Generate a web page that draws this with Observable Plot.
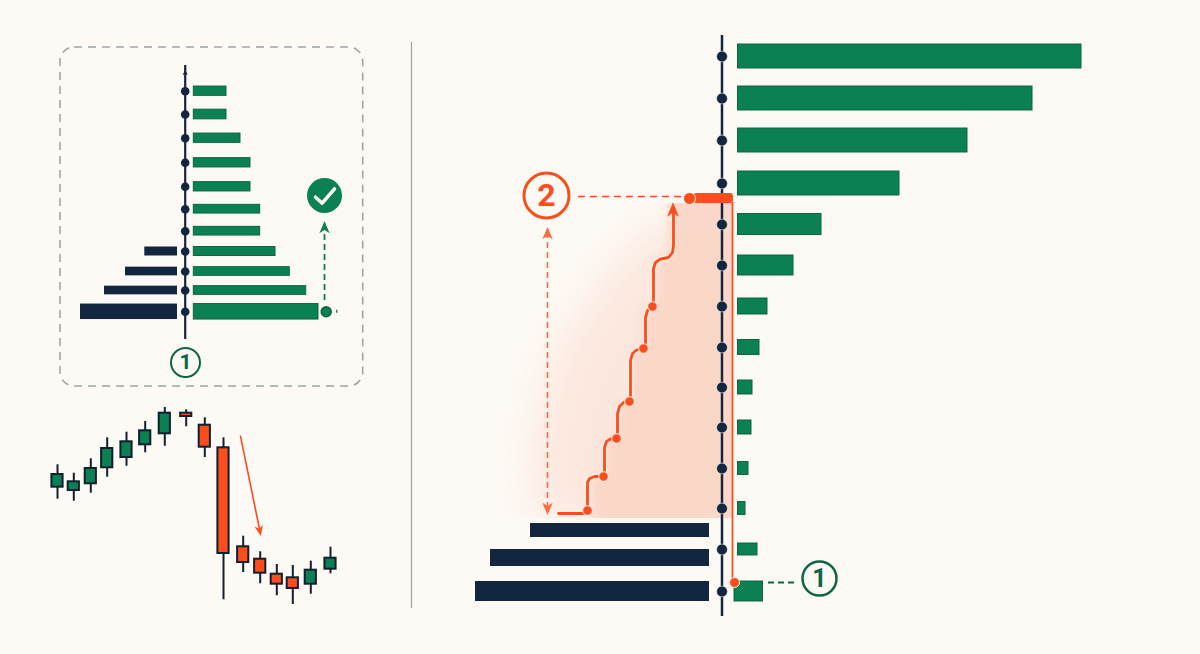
<!DOCTYPE html>
<html><head><meta charset="utf-8">
<script src="https://cdn.jsdelivr.net/npm/d3@7"></script>
<script src="https://cdn.jsdelivr.net/npm/@observablehq/plot@0.6"></script>
<style>
html,body{margin:0;padding:0;background:#fdfaf5;overflow:hidden}
#stage{position:relative;width:1200px;height:654px}
#stage svg{position:absolute;background:transparent;overflow:visible}
</style></head><body><div id="stage"></div>
<script>
// ---------- inset profile ----------
const insetLevels = [88.7,110,129,149,169.3,191.3,213.7,237.7,262.3,286,309.3];
const insetBuy    = [124.7,112.4,96,81.7,66.4,66.4,56.7,56.7,46.7,32.7,32.7];
const insetSell   = [97,73,52,32.7];
const insetWeight = [15.5,8.7,8.7,9,8.7,8.7,9.3,9.3,9.3,9.7,9.3];
// ---------- candles ----------
const sessions = [17,33.3,50.3,66.7,86,104.7,124.3,145.7,164.3,183,202.7,219.7,236.3,252.3,270.3,290];
const opens  = [123.3,120,126.7,142.7,153,165.7,176.7,197.3,185.3,162.7,63.7,51.3,36.3,32.7,26.3,41.3];
const closes = [136,128.7,142,162,168.7,179.7,197.3,194,163.3,57,48,37.3,26.3,22,40.3,52.3];
const highs  = [145.7,137.3,151.7,172.7,178.3,189,203,200.7,192.7,172.7,74.3,58.7,46,45,49.3,63.3];
const lows   = [111.3,109.3,117.3,133.3,144.3,157.7,164.3,183.7,153,10.7,38,26.7,14.7,6,16.3,36.7];
// ---------- main profile ----------
const mainLevels = [63,105,146,186,227,267,307,348,389,430,471,514,556,598];
const mainBuy    = [29,20,8,11,14,15,22,30,56,84,162,230,295,344];
const mainWeight = [20,12,13,13,14,14,15,16,20,21,24,24,24,24];
const sellLevels = [63,96.5,124];
const sellSize   = [234,219,179];
const sellWeight = [20,17,14];
const stairX = [-163.5,-134.5,-134.5,-132.5,-127.5,-118.5,-117.5,-117.5,-115.5,-111.5,-105.5,-104.5,-104.5,-102.5,-98.5,-92.5,-91.5,-91.5,-89.5,-85.5,-78.5,-76.5,-76.5,-74.5,-69.5,-68.5,-68.5,-66.5,-61.5,-53.5,-49.5,-48.5,-48.5];
const stairY = [141,141,172,176,178,178,184,207,213,215.5,216,222,241,248,252,253,259,294,301,304.5,306,311,337,344,348,354,386,392,395.5,397,402,409,444];
const stairNodeX = [-134.5,-118.5,-105.5,-92.5,-78.5,-69.5];
const stairNodeY = [144,178,216,253,306,348];
const shadeEdgeY = [130,178,216,253,306,348,397,470];
const shadeEdgeX = [-138,-122,-109,-96,-82,-73,-56,-50];
const glowEdgeY  = [130,200,300,380,430];
const glowEdgeX  = [-185,-190,-168,-115,-70];

// ---------- palette ----------
const bg="#fdfaf5", green="#0a8053", greenEdge="#0c6645", navy="#13263f", orange="#fb4e1c", orangeSoft="#fb6a40", shade="#fbd6c7", grey="#9ba3a7", ink="#10202e";
const digitFont = "Roboto, 'Liberation Sans', sans-serif";

const stage=document.getElementById("stage");
stage.innerHTML=`<svg width="0" height="0" style="position:absolute"><defs>
<filter id="blurWide" x="-50%" y="-50%" width="200%" height="200%"><feGaussianBlur stdDeviation="22"/></filter>
<filter id="blurTight" x="-20%" y="-20%" width="140%" height="140%"><feGaussianBlur stdDeviation="5"/></filter></defs></svg>`;

const stealth={draw(c,size){const r=Math.sqrt(size/Math.PI);c.moveTo(0,-r*1.1);c.lineTo(r*.85,r*.95);c.lineTo(0,r*.4);c.lineTo(-r*.85,r*.95);c.closePath();}};

function place(svg,left,top){svg.style.left=left+"px";svg.style.top=top+"px";stage.appendChild(svg);}

function panel(width,height,xDomain,yDomain,marks){
  return Plot.plot({width,height,margin:0,marginTop:0,marginRight:0,marginBottom:0,marginLeft:0,
    x:{type:"linear",domain:xDomain,range:[0,width],axis:null},
    y:{type:"linear",domain:yDomain,range:[height,0],axis:null},
    style:{background:"transparent"},marks});
}

// ---------- inset panel ----------
const insetRows=insetLevels.map((y,i)=>({y,buy:insetBuy[i],sell:insetSell[i],w:insetWeight[i]}));
const insetGapR=8.6, insetGapL=7.7;
const inset=panel(330,370,[-134.7,195.3],[0,370],[
  Plot.rect([{}],{x1:-124.7,x2:178,y1:14,y2:353,rx:14,fill:"none",stroke:grey,strokeWidth:1.5,strokeDasharray:"8,6"}),
  Plot.rect(insetRows,{x1:insetGapR,x2:d=>insetGapR+d.buy,y1:d=>d.y-d.w/2,y2:d=>d.y+d.w/2,fill:green,stroke:greenEdge,strokeWidth:1}),
  Plot.rect(insetRows.filter(d=>d.sell),{x1:-insetGapL,x2:d=>-insetGapL-d.sell,y1:d=>d.y-d.w/2,y2:d=>d.y+d.w/2,fill:navy}),
  Plot.ruleX([0],{y1:61,y2:335,stroke:navy,strokeWidth:2.2}),
  Plot.dot([0],{x:0,y:()=>328,symbol:stealth,r:3,fill:navy}),
  Plot.dot(insetRows,{x:()=>0,y:"y",r:4.3,fill:navy}),
  Plot.ruleX([151.5],{y1:87.2,y2:90.2,stroke:green,strokeWidth:1.3}),
  Plot.dot([0],{x:()=>141,y:()=>88.7,r:5,fill:green,stroke:greenEdge}),
  Plot.ruleX([139.3],{y1:100,y2:168,stroke:green,strokeWidth:1.8,strokeDasharray:"6,4"}),
  Plot.dot([0],{x:()=>139.3,y:()=>173,r:6,symbol:stealth,fill:green}),
  Plot.dot([0],{x:()=>139.3,y:()=>205,r:17.5,fill:green}),
  Plot.line([[130.3,203.3],[137,197.3],[149.3,211.7]],{x:"0",y:"1",stroke:"white",strokeWidth:3.5,strokeLinecap:"round",strokeLinejoin:"round"}),
  Plot.dot([0],{x:()=>0.3,y:()=>38,r:14.5,fill:"none",stroke:greenEdge,strokeWidth:2}),
  Plot.text(["1"],{x:()=>0.3,y:()=>38,fill:greenEdge,fontSize:21,fontWeight:700,fontFamily:digitFont})
]);
place(inset,50,30);

// ---------- candles ----------
const candles=sessions.map((x,i)=>({x,o:opens[i],c:closes[i],h:highs[i],l:lows[i]}));
const bodyHalf=5.6;
const candlePanel=panel(320,210,[0,320],[0,210],[
  Plot.ruleX(candles,{x:"x",y1:"l",y2:"h",stroke:ink,strokeWidth:2}),
  Plot.rect(candles,{x1:d=>d.x-bodyHalf,x2:d=>d.x+bodyHalf,y1:"o",y2:"c",fill:d=>d.c>d.o?green:orange,stroke:ink,strokeWidth:2}),
  Plot.line([[200,174.3],[219.5,79]],{x:"0",y:"1",stroke:orange,strokeWidth:1.6}),
  Plot.dot([0],{x:()=>219.2,y:()=>80,r:5,symbol:stealth,rotate:168,fill:orange})
]);
place(candlePanel,40,400);

// ---------- main panel ----------
function softened(filterId,clip){
  return (index,scales,values,dims,ctx,next)=>{
    const g=next(index,scales,values,dims,ctx);
    const ns="http://www.w3.org/2000/svg", id="clip"+filterId;
    const wrap=document.createElementNS(ns,"g"), cp=document.createElementNS(ns,"clipPath"), r=document.createElementNS(ns,"rect");
    cp.setAttribute("id",id);
    r.setAttribute("x",scales.x(clip.x1));r.setAttribute("width",scales.x(clip.x2)-scales.x(clip.x1));
    r.setAttribute("y",scales.y(clip.y2));r.setAttribute("height",scales.y(clip.y1)-scales.y(clip.y2));
    cp.appendChild(r);wrap.appendChild(cp);
    g.setAttribute("filter",`url(#${filterId})`);
    wrap.setAttribute("clip-path",`url(#${id})`);
    wrap.appendChild(g);return wrap;
  };
}
const mainRows=mainLevels.map((y,i)=>({y,buy:mainBuy[i],w:mainWeight[i],x1:i===0?12.5:16}));
const sellRows=sellLevels.map((y,i)=>({y,size:sellSize[i],w:sellWeight[i]}));
const gapL=12.5, redEdge=10.5;
const stair=stairX.map((x,i)=>({x,y:stairY[i]}));
const nodes=stairNodeX.map((x,i)=>({x,y:stairNodeY[i]}));
const shadeRows=shadeEdgeY.map((y,i)=>({y,x:shadeEdgeX[i]}));
const glowRows=glowEdgeY.map((y,i)=>({y,x:glowEdgeX[i]}));
const main=panel(800,654,[-321.5,478.5],[0,654],[
  Plot.ruleX([-310.5],{y1:46,y2:612,stroke:"#a3a3a0",strokeWidth:1.2}),
  Plot.areaX(glowRows,{y:"y",x1:"x",x2:()=>redEdge,fill:shade,fillOpacity:.5,curve:"linear",render:softened("blurWide",{x1:-400,x2:redEdge,y1:136,y2:451})}),
  Plot.areaX(shadeRows,{y:"y",x1:"x",x2:()=>redEdge+20,fill:shade,fillOpacity:.95,curve:"step",render:softened("blurTight",{x1:-400,x2:redEdge,y1:136,y2:451})}),
  Plot.rect(mainRows,{x1:"x1",x2:d=>d.x1+d.buy-.5,y1:d=>d.y-d.w/2,y2:d=>d.y+d.w/2,fill:green,stroke:greenEdge,strokeWidth:1}),
  Plot.rect(sellRows,{x1:-gapL,x2:d=>-gapL-d.size,y1:d=>d.y-d.w/2,y2:d=>d.y+d.w/2,fill:navy}),
  Plot.ruleX([0],{y1:38,y2:619,stroke:navy,strokeWidth:2.5}),
  Plot.dot(mainRows,{x:()=>0,y:"y",r:5.4,fill:navy,stroke:bg,strokeWidth:.8,strokeOpacity:.7}),
  // orange ladder
  Plot.line(stair,{x:"x",y:"y",stroke:"#fff7f2",strokeWidth:5.5,strokeOpacity:.55}),
  Plot.line(stair,{x:"x",y:"y",stroke:orange,strokeWidth:2.8,strokeLinejoin:"round"}),
  Plot.dot([0],{x:()=>-49,y:()=>444.5,r:7,symbol:stealth,fill:orange}),
  Plot.dot(nodes,{x:"x",y:"y",r:4.8,fill:orange,stroke:"#fff3ec",strokeWidth:1}),
  // range and level markers
  Plot.ruleX([redEdge],{y1:72,y2:452,stroke:orange,strokeWidth:1.8}),
  Plot.rect([{}],{x1:-28,x2:redEdge+1,y1:451,y2:461,rx:3,fill:orange}),
  Plot.ruleY([458],{x1:-143.5,x2:-39.5,stroke:orange,strokeWidth:1.7,strokeDasharray:"7,5"}),
  Plot.dot([0],{x:()=>-32.5,y:()=>456,r:6,fill:orange,stroke:"#fff3ec",strokeWidth:1}),
  Plot.dot([0],{x:()=>12.5,y:()=>72,r:5,fill:orange,stroke:"#fff3ec",strokeWidth:1}),
  Plot.ruleX([-174.5],{y1:146,y2:418,stroke:orangeSoft,strokeWidth:1.6,strokeDasharray:"6,4"}),
  Plot.dot([0],{x:()=>-174.5,y:()=>421,r:6,symbol:stealth,fill:orangeSoft}),
  Plot.dot([0],{x:()=>-174.5,y:()=>146,r:6,symbol:stealth,rotate:180,fill:orangeSoft}),
  Plot.dot([0],{x:()=>-175.5,y:()=>459,r:22.5,fill:bg,stroke:orange,strokeWidth:3}),
  Plot.text(["2"],{x:()=>-175.5,y:()=>459,fill:orange,fontSize:32,fontWeight:700,fontFamily:digitFont}),
  // label 1
  Plot.ruleY([72],{x1:46.5,x2:73.5,stroke:greenEdge,strokeWidth:2,strokeDasharray:"6,4"}),
  Plot.dot([0],{x:()=>97.5,y:()=>76,r:17,fill:"none",stroke:greenEdge,strokeWidth:2.5}),
  Plot.text(["1"],{x:()=>97.5,y:()=>76,fill:greenEdge,fontSize:25,fontWeight:700,fontFamily:digitFont})
]);
place(main,400,0);
</script></body></html>
